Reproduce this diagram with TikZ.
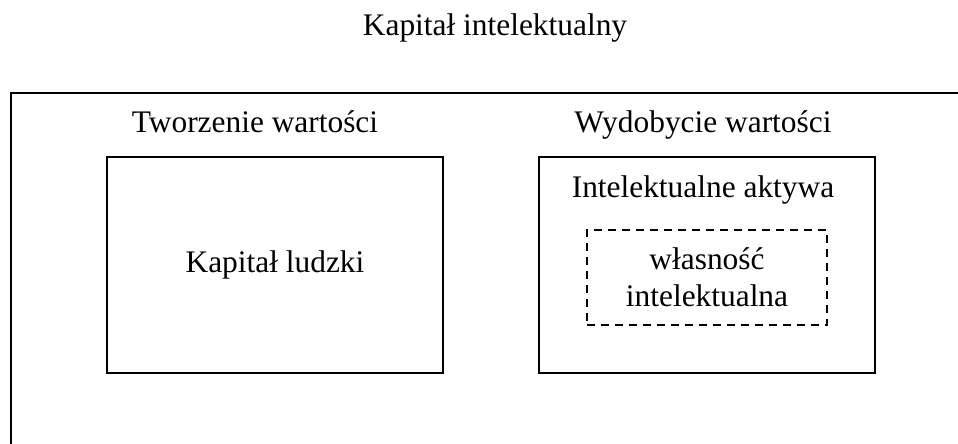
\documentclass[tikz,border=0pt]{standalone}
\usepackage{fontspec}
\setmainfont{Liberation Serif}

\begin{document}
\begin{tikzpicture}[x=0.5pt,y=-0.5pt,
    font=\fontsize{15.7}{18.5}\selectfont,
    box/.style={draw,line width=1pt,inner sep=0pt},
    dashbox/.style={draw,line width=0.7pt,dash pattern=on 4pt off 3pt,inner sep=0pt,align=center}]
    \useasboundingbox (0,0) rectangle (958,444);
    \node[anchor=base] (title) at (495,36) {Kapitał intelektualny};
    \coordinate (low) at (11,444);
    \coordinate (corner) at (11,93);
    \coordinate (right) at (958,93);
    \draw[line width=1pt] (low) -- (corner) -- (right);
    \node[anchor=base] (create) at (255,133) {Tworzenie wartości};
    \node[anchor=base] (extract) at (703,133) {Wydobycie wartości};
    \node[box,minimum width=168pt,minimum height=108pt] (human) at (275,265) {Kapitał ludzki};
    \node[box,minimum width=168pt,minimum height=108pt] (assets) at (707,265) {};
    \node[anchor=base] (assetslabel) at (703,198) {Intelektualne aktywa};
    \node[dashbox,minimum width=120pt,minimum height=47.5pt] (ip) at (707,277.5) {własność\\intelektualna};
\end{tikzpicture}
\end{document}
